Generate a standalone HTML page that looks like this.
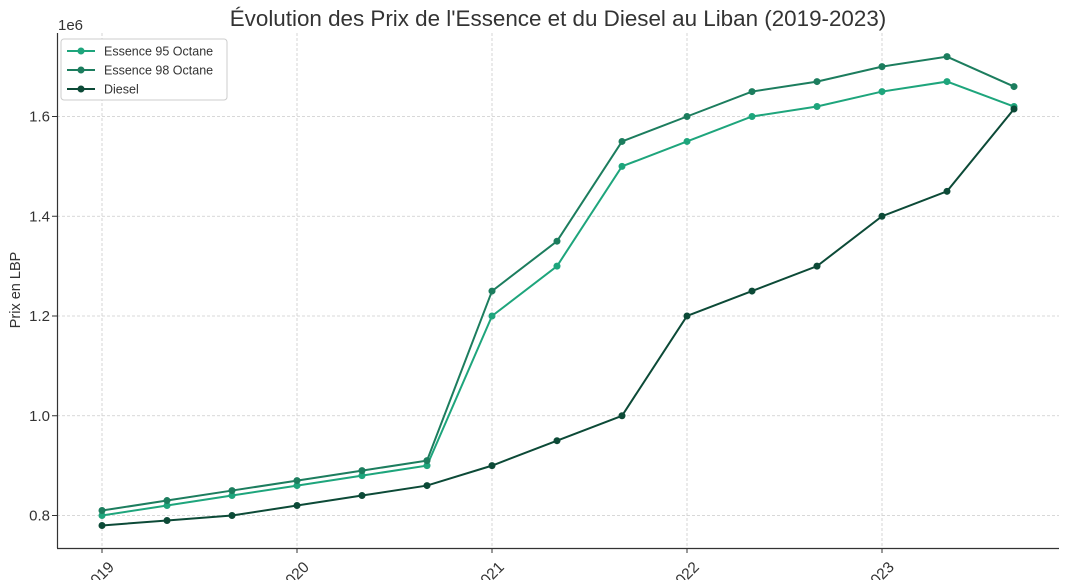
<!DOCTYPE html>
<html><head><meta charset="utf-8"><style>
body{margin:0;background:#fff;}
svg{display:block;font-family:"Liberation Sans","DejaVu Sans",sans-serif;}
</style></head><body>
<svg id="s" width="1068" height="580" xmlns="http://www.w3.org/2000/svg">
<rect width="1068" height="580" fill="#fff"/>
<text x="558" y="26" font-size="22.4" text-anchor="middle" fill="#333">Évolution des Prix de l'Essence et du Diesel au Liban (2019-2023)</text>
<text x="58" y="30" font-size="15" fill="#333">1e6</text>
<text transform="translate(20,290) rotate(-90)" font-size="14.5" text-anchor="middle" fill="#333">Prix en LBP</text>
<g id="grid"></g>
<g id="series"></g>
<line x1="57.5" y1="33" x2="57.5" y2="548" stroke="#333" stroke-width="1.2"/>
<line x1="57" y1="548.5" x2="1059" y2="548.5" stroke="#333" stroke-width="1.2"/>
<g id="ticks"></g>
<g>
<rect x="61" y="39" width="166" height="61" rx="3" fill="#fff" stroke="#ccc"/>
<line x1="67" y1="51" x2="95" y2="51" stroke="#1ea57c" stroke-width="2"/><circle cx="81" cy="51" r="3.5" fill="#1ea57c"/>
<text x="104" y="55.5" font-size="12.5" fill="#333">Essence 95 Octane</text>
<line x1="67" y1="70" x2="95" y2="70" stroke="#1c7d5e" stroke-width="2"/><circle cx="81" cy="70" r="3.5" fill="#1c7d5e"/>
<text x="104" y="74.5" font-size="12.5" fill="#333">Essence 98 Octane</text>
<line x1="67" y1="89" x2="95" y2="89" stroke="#0c4a37" stroke-width="2"/><circle cx="81" cy="89" r="3.5" fill="#0c4a37"/>
<text x="104" y="93.5" font-size="12.5" fill="#333">Diesel</text>
</g>
</svg>
<script>
var NS="http://www.w3.org/2000/svg";
function el(p,t,a,txt){var e=document.createElementNS(NS,t);for(var k in a)e.setAttribute(k,a[k]);if(txt)e.textContent=txt;document.getElementById(p).appendChild(e);return e;}
function Y(v){return 515.5-(v-0.8)*498.75;}
var yt=[0.8,1.0,1.2,1.4,1.6];
yt.forEach(function(v){var y=Y(v);
el("grid","line",{x1:57,x2:1059,y1:y,y2:y,stroke:"#ccc","stroke-dasharray":"3,2","stroke-width":0.8});
el("ticks","line",{x1:52,x2:57,y1:y,y2:y,stroke:"#333"});
el("ticks","text",{x:50,y:y+5,"font-size":15,"text-anchor":"end",fill:"#333"},v.toFixed(1));});
for(var i=0;i<5;i++){var x=102+195*i;
el("grid","line",{x1:x,x2:x,y1:33,y2:548,stroke:"#ccc","stroke-dasharray":"3,2","stroke-width":0.8});
el("ticks","line",{x1:x,x2:x,y1:548,y2:553,stroke:"#333"});
el("ticks","text",{transform:"translate("+(x+13)+",568) rotate(-45)","font-size":15.5,"text-anchor":"end",fill:"#333"},String(2019+i));}
var xs=[];for(var i=0;i<15;i++)xs.push(102+65*i);xs[14]=1014;
var d=[
["#1ea57c",[0.80,0.82,0.84,0.86,0.88,0.90,1.20,1.30,1.50,1.55,1.60,1.62,1.65,1.67,1.62]],
["#1c7d5e",[0.81,0.83,0.85,0.87,0.89,0.91,1.25,1.35,1.55,1.60,1.65,1.67,1.70,1.72,1.66]],
["#0c4a37",[0.78,0.79,0.80,0.82,0.84,0.86,0.90,0.95,1.00,1.20,1.25,1.30,1.40,1.45,1.615]]];
d.forEach(function(s){var p=s[1].map(function(v,i){return xs[i]+","+Y(v);}).join(" ");
el("series","polyline",{points:p,fill:"none",stroke:s[0],"stroke-width":2});
s[1].forEach(function(v,i){el("series","circle",{cx:xs[i],cy:Y(v),r:3.5,fill:s[0]});});});
</script>
</body></html>
